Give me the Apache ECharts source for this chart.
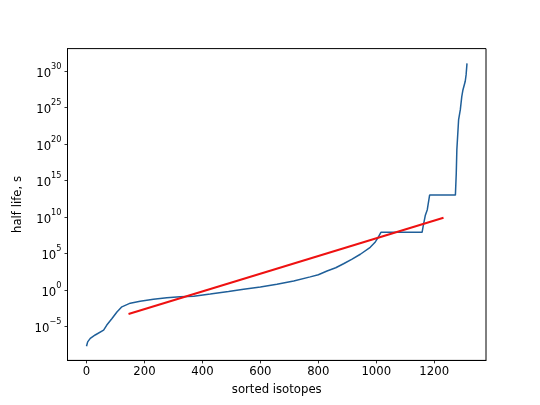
<!DOCTYPE html>
<html>
<head>
<meta charset="utf-8">
<script src="https://cdn.jsdelivr.net/npm/echarts@6/dist/echarts.min.js"></script>
<style>
html,body{margin:0;padding:0;background:#fff;}
#c{width:540px;height:405px;}
</style>
</head>
<body>
<div id="c"></div>
<script>
// sorted isotope index (x) and log10 of half life in seconds (y)
var isotopeIndex = [0, 4, 13, 30, 59, 70, 88, 105, 122, 151, 185, 231, 277, 323, 370, 427, 490, 542, 600, 657, 715, 772, 800, 830, 860, 887, 915, 945, 979, 995, 1005, 1016, 1158, 1162, 1169, 1176, 1184, 1273, 1276, 1278, 1284, 1290, 1295, 1299, 1307, 1310, 1313];
var halfLifeExp = [-7.7, -7.1, -6.62, -6.16, -5.5, -4.8, -3.9, -3.0, -2.3, -1.8, -1.55, -1.27, -1.07, -0.93, -0.85, -0.55, -0.2, 0.1, 0.4, 0.8, 1.25, 1.8, 2.1, 2.6, 3.05, 3.6, 4.2, 4.9, 5.85, 6.5, 7.1, 7.9, 7.9, 8.8, 10.2, 11.0, 13.0, 13.0, 16.0, 19.2, 23.3, 24.7, 26.5, 27.4, 28.6, 29.5, 31.05];
// linear fit (in log space)
var fitIndex = [145, 1232];
var fitExp = [-3.29, 9.9];
// tick labels
var xTicks = [0, 200, 400, 600, 800, 1000, 1200];
var yTicks = [-5, 0, 5, 10, 15, 20, 25, 30];

var blueData = isotopeIndex.map(function (x, i) { return [x, halfLifeExp[i]]; });
var redData = fitIndex.map(function (x, i) { return [x, fitExp[i]]; });

var FONT = 'DejaVu Sans';
var chart = echarts.init(document.getElementById('c'), null, {renderer: 'canvas'});
chart.setOption({
  animation: false,
  backgroundColor: '#ffffff',
  grid: {
    left: 67.5, top: 48.6, width: 418.5, height: 311.8,
    show: true, borderColor: '#000', borderWidth: 1, backgroundColor: 'transparent',
    containLabel: false, outerBoundsMode: 'none'
  },
  xAxis: {
    type: 'value', min: -65.6, max: 1378.6, position: 'bottom',
    name: 'sorted isotopes', nameLocation: 'middle', nameGap: 24,
    nameTextStyle: {fontFamily: FONT, fontSize: 11.7, color: '#000'},
    axisLine: {show: true, onZero: false, lineStyle: {color: '#000', width: 1}},
    splitLine: {show: false},
    axisTick: {show: true, inside: false, length: 3, lineStyle: {color: '#000', width: 0.8}, customValues: xTicks},
    axisLabel: {show: true, margin: 6, fontFamily: FONT, fontSize: 11.7, color: '#000', customValues: xTicks,
      formatter: function (v) { return String(v); }}
  },
  yAxis: {
    type: 'value', min: -9.64, max: 33.07, position: 'left',
    name: 'half life, s', nameLocation: 'middle', nameGap: 36, nameRotate: 90,
    nameTextStyle: {fontFamily: FONT, fontSize: 11.7, color: '#000'},
    axisLine: {show: true, onZero: false, lineStyle: {color: '#000', width: 1}},
    splitLine: {show: false},
    axisTick: {show: true, inside: false, length: 3, lineStyle: {color: '#000', width: 0.8}, customValues: yTicks},
    axisLabel: {show: true, margin: 6, customValues: yTicks,
      formatter: function (v) {
        var s = v < 0 ? '\u2212' + Math.abs(v) : String(v);
        return '{b|10}{s|' + s + '}';
      },
      rich: {
        b: {fontFamily: FONT, fontSize: 11.7, color: '#000', verticalAlign: 'bottom', lineHeight: 17},
        s: {fontFamily: FONT, fontSize: 8.2, color: '#000', verticalAlign: 'top', lineHeight: 17}
      }
    }
  },
  series: [
    {type: 'line', data: blueData, showSymbol: false, symbol: 'none',
     lineStyle: {color: '#1f5f99', width: 1.5}, z: 2},
    {type: 'line', data: redData, showSymbol: false, symbol: 'none',
     lineStyle: {color: '#ee1111', width: 2}, z: 3}
  ]
});
</script>
</body>
</html>
